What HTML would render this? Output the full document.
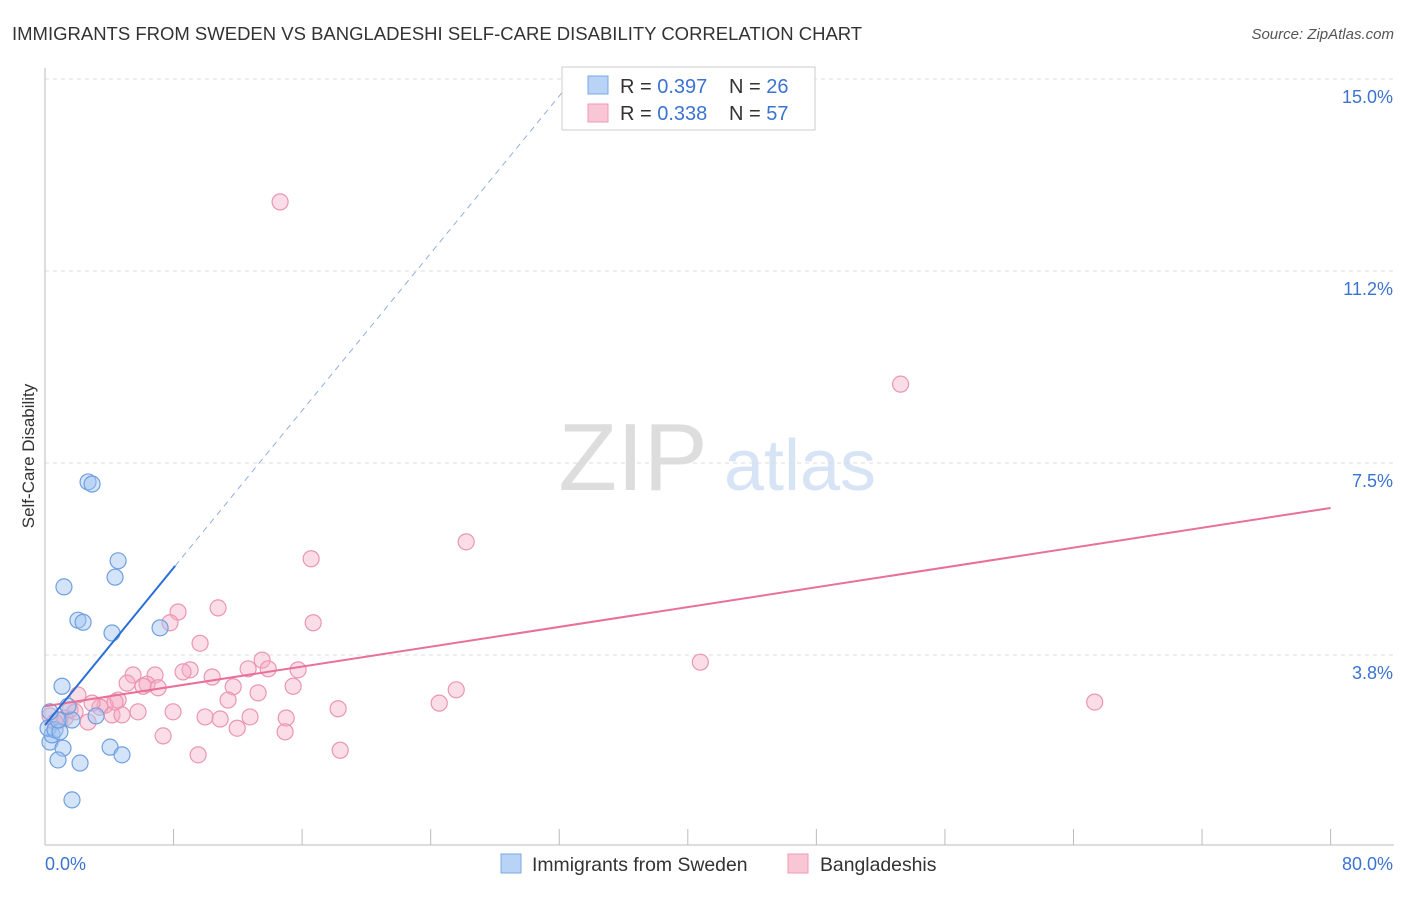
<!DOCTYPE html>
<html><head><meta charset="utf-8"><style>
body{margin:0;background:#fff;font-family:"Liberation Sans",sans-serif;}
svg text{font-family:"Liberation Sans",sans-serif;}
</style></head><body>
<svg id="c" width="1406" height="892" viewBox="0 0 1406 892">
<text x="12" y="40" font-size="18.5" fill="#333">IMMIGRANTS FROM SWEDEN VS BANGLADESHI SELF-CARE DISABILITY CORRELATION CHART</text>
<text x="1394" y="39" font-size="15" fill="#555" font-style="italic" text-anchor="end">Source: ZipAtlas.com</text>
<text x="633" y="490" font-size="96" fill="#ddd" font-family="Liberation Serif" text-anchor="middle">ZIP</text>
<text x="800" y="490" font-size="72" fill="#d6e4f5" text-anchor="middle">atlas</text>
<text transform="translate(34,456) rotate(-90)" font-size="17" fill="#333" text-anchor="middle">Self-Care Disability</text>
<g id="grid"></g><g id="marks"></g>
<g>
<rect x="562" y="67" width="253" height="63" fill="#fff" stroke="#ccc"/>
<rect x="588" y="76" width="20" height="18" fill="#b8d3f5" stroke="#7aa7e5"/>
<rect x="588" y="104" width="20" height="18" fill="#f9c6d5" stroke="#ee9ab5"/>
<text x="620" y="93" font-size="20" fill="#333">R = <tspan fill="#3b73d1">0.397</tspan><tspan x="729">N = </tspan><tspan fill="#3b73d1">26</tspan></text>
<text x="620" y="120" font-size="20" fill="#333">R = <tspan fill="#3b73d1">0.338</tspan><tspan x="729">N = </tspan><tspan fill="#3b73d1">57</tspan></text>
</g>
<g>
<rect x="501" y="854" width="20" height="19" fill="#b8d3f5" stroke="#7aa7e5"/>
<text x="532" y="871" font-size="19.4" fill="#333">Immigrants from Sweden</text>
<rect x="788" y="854" width="20" height="19" fill="#f9c6d5" stroke="#ee9ab5"/>
<text x="820" y="871" font-size="19.4" fill="#333">Bangladeshis</text>
</g>
</svg>
<script>
const xTicks=[0,8,16,24,32,40,48,56,64,72,80];
const yTicks=[3.75,7.5,11.25,15];
const yTickLabels=["3.8%","7.5%","11.2%","15.0%"];
const xTickLabels=["0.0%","80.0%"];
const swedenX=[0.31,0.44,0.19,0.62,0.93,1.12,0.81,1.68,2.18,1.06,1.18,2.05,2.37,2.68,2.93,4.55,4.36,4.17,7.16,4.05,4.79,3.18,1.68,1.43,0.81,0.31];
const swedenY=[2.05,2.19,2.32,2.29,2.25,1.93,1.70,0.92,1.64,3.14,5.08,4.43,4.39,7.13,7.09,5.59,5.27,4.18,4.28,1.95,1.80,2.56,2.48,2.75,2.48,2.64];
const bangX=[14.63,53.24,26.21,16.56,40.78,65.32,8.28,10.77,7.78,16.69,9.65,13.51,13.89,15.75,12.64,9.03,8.59,6.85,5.48,5.11,6.35,6.10,7.04,10.40,11.71,15.44,13.26,11.39,25.59,24.53,18.24,4.55,3.74,3.42,2.05,1.56,1.25,0.93,2.68,4.17,4.79,5.79,7.97,9.96,10.90,12.76,15.01,11.96,14.94,7.35,9.53,18.37,1.87,2.93,0.62,0.31,4.36];
const bangY=[12.60,9.04,5.96,5.63,3.61,2.83,4.59,4.67,4.38,4.38,3.98,3.65,3.48,3.46,3.48,3.46,3.42,3.36,3.36,3.20,3.18,3.14,3.11,3.32,3.13,3.14,3.01,2.87,3.07,2.81,2.70,2.87,2.77,2.73,2.97,2.68,2.52,2.48,2.44,2.58,2.58,2.64,2.64,2.54,2.50,2.54,2.52,2.32,2.25,2.17,1.80,1.89,2.64,2.81,2.44,2.56,2.83];
const swedenTrend=[2.38,0.384];
const bangTrend=[2.75,0.0484];
const X=v=>45+v*16.07, Y=v=>847-v*51.2;
const NS="http://www.w3.org/2000/svg";
function mk(t,a,p){const e=document.createElementNS(NS,t);for(const k in a)e.setAttribute(k,a[k]);p.appendChild(e);return e;}
const g=document.getElementById('grid'),m=document.getElementById('marks');
yTicks.forEach((t,i)=>{
 const l=mk('line',{x1:45,x2:1394,y1:Y(t),y2:Y(t),stroke:'#ddd','stroke-dasharray':'4,4'},g);
 
 
 const tx=mk('text',{x:1393,y:Y(t)+24,'font-size':18,fill:'#3b73d1','text-anchor':'end'},g);
 tx.textContent=yTickLabels[i];
 
 
});
const ax=mk('line',{x1:45,x2:1394,y1:845,y2:845,stroke:'#bbb'},g);


const ay=mk('line',{x1:45,x2:45,y1:68,y2:845,stroke:'#bbb'},g);


xTicks.forEach(t=>{
 const l=mk('line',{x1:X(t),x2:X(t),y1:829,y2:845,stroke:'#bbb'},g);
 
 
});
[[0,'start',45],[80,'end',1393]].forEach((d,i)=>{
 const tx=mk('text',{x:d[2],y:870,'font-size':18,fill:'#3b73d1','text-anchor':d[1]},g);
 tx.textContent=xTickLabels[i];
 
 
});
bangX.forEach((v,i)=>{
 const c=mk('circle',{cx:X(v),cy:Y(bangY[i]),r:8,fill:'rgba(246,170,195,0.4)',stroke:'#eb95b2','stroke-width':1.2},m);
 
 
});
swedenX.forEach((v,i)=>{
 const c=mk('circle',{cx:X(v),cy:Y(swedenY[i]),r:8,fill:'rgba(160,195,240,0.45)',stroke:'#6f9fe0','stroke-width':1.2},m);
 
 
});
const bl=mk('line',{x1:X(0),y1:Y(bangTrend[0]),x2:X(80),y2:Y(bangTrend[0]+bangTrend[1]*80),stroke:'#e8709a','stroke-width':2},m);


const sl=mk('line',{x1:X(0),y1:Y(swedenTrend[0]),x2:X(8.1),y2:Y(swedenTrend[0]+swedenTrend[1]*8.1),stroke:'#2a6fd6','stroke-width':2},m);


const sd=mk('line',{x1:X(8.1),y1:Y(swedenTrend[0]+swedenTrend[1]*8.1),x2:X(32.2),y2:Y(swedenTrend[0]+swedenTrend[1]*32.2),stroke:'#8fb0e0','stroke-width':1,'stroke-dasharray':'6,5'},m);


</script>
</body></html>
